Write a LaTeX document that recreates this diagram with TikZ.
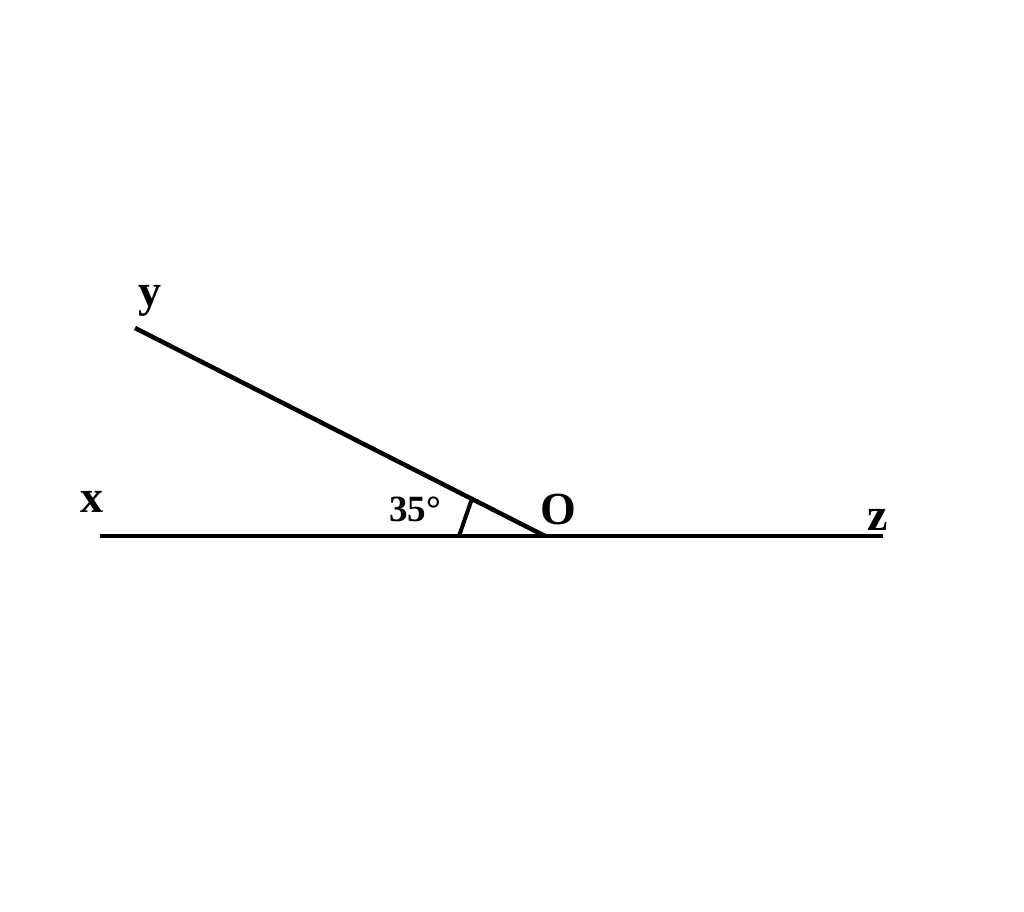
\documentclass[tikz,border=0pt]{standalone}
\usepackage{fontspec}
\setmainfont{Liberation Serif}
\usetikzlibrary{calc}
\begin{document}
\begin{tikzpicture}[x=1pt,y=-1pt,
  ray/.style={line width=4.5pt},
  lbl/.style={inner sep=0pt,anchor=base,font=\bfseries\fontsize{46}{46}\selectfont},
  small/.style={inner sep=0pt,anchor=base,font=\bfseries\fontsize{37}{37}\selectfont}]
\useasboundingbox (0,0) rectangle (1024,911);
\coordinate (O) at (545,536);
\coordinate (X) at (100,536);
\coordinate (Z) at (883,536);
\coordinate (Y) at (135,328);
\coordinate (A1) at ($(O)!86pt!(X)$);
\coordinate (A2) at ($(O)!82pt!(Y)$);
\draw[ray] (X) -- (Z);
\draw[ray] (O) -- (Y);
\draw[line width=4pt] (A1) -- (A2);
\node[lbl] (lx) at (92,512) {x};
\node[lbl] (ly) at (150,306) {y};
\node[lbl] (lo) at (558,524) {O};
\node[lbl] (lz) at (878,530) {z};
\node[small] (la) at (415,521) {35°};
\end{tikzpicture}
\end{document}
